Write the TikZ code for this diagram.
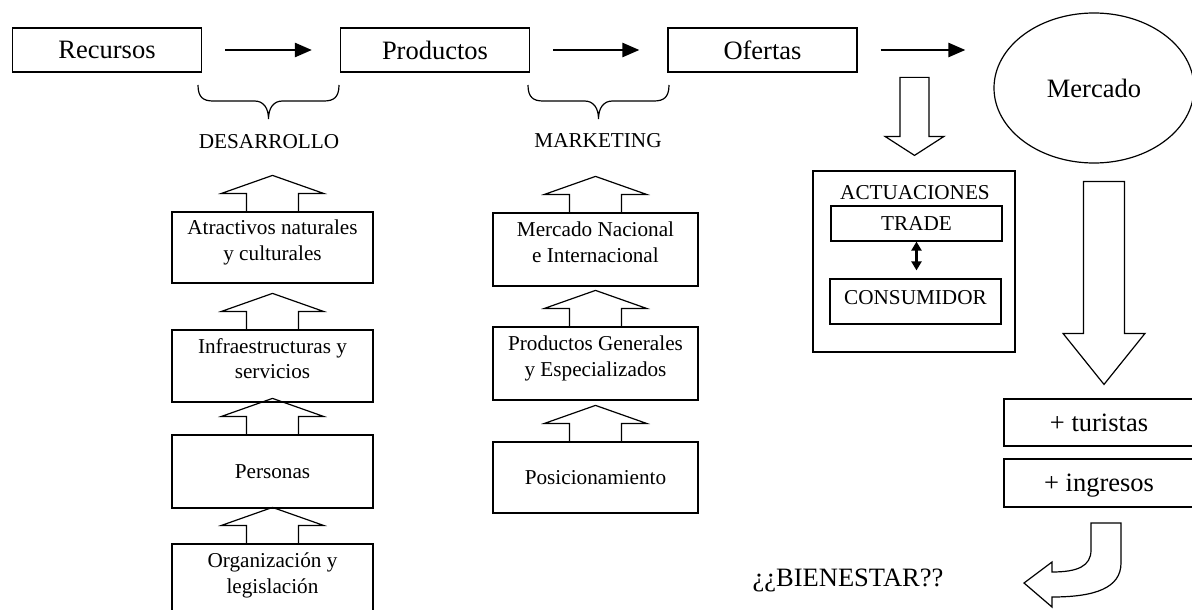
\documentclass[tikz,border=0pt]{standalone}
\usepackage{fontspec}
\setmainfont{Liberation Serif}
\usetikzlibrary{arrows.meta,calc,shapes.geometric}
\newcommand{\bigfont}{\fontsize{26.5pt}{30pt}\selectfont}
\newcommand{\smallfont}{\fontsize{21.2pt}{25.5pt}\selectfont}
\newcommand{\blockup}[1]{\draw [blockarrow] ($(#1.north)+(-26,0)$) -- ++(0,18) -- ++(-25,0) -- ++(51,18) -- ++(51,-18) -- ++(-25,0) -- ++(0,-18);}
\newcommand{\blockdown}[5]{\draw [blockarrow] (#1) -- ++(-#3,#4) -- ++(#3-#2,0) -- ++(0,#5) -- ++(2*#2,0) -- ++(0,-#5) -- ++(#3-#2,0) -- cycle;}
\newcommand{\wordbrace}[2]{\pgfmathsetmacro{\bm}{(#1+#2)/2}
  \draw [line width=1.2pt] (#1,-85) .. controls (#1,-97) and (#1+5,-101) .. (#1+15,-101) -- (\bm-14,-101) .. controls (\bm-5,-101) and (\bm,-108) .. (\bm,-119) .. controls (\bm,-108) and (\bm+5,-101) .. (\bm+14,-101) -- (#2-15,-101) .. controls (#2-5,-101) and (#2,-97) .. (#2,-85);}
\tikzset{
  box/.style={draw, line width=1.2pt, inner sep=0pt},
  topbox/.style={box, minimum width=189pt, minimum height=44pt, font=\bigfont, text depth=0pt},
  colbox/.style={box, font=\smallfont, align=center, text depth=15pt},
  onebox/.style={box, font=\smallfont, text depth=0pt},
  flowarrow/.style={line width=2.5pt, -{Triangle[length=17pt,width=14pt]}, shorten <=23pt, shorten >=28pt},
  dblarrow/.style={line width=2.5pt, {Triangle[length=9pt,width=10pt]}-{Triangle[length=9pt,width=10pt]}, shorten >=8pt},
  blockarrow/.style={line width=1.2pt, line join=miter}
}
\begin{document}
\begin{tikzpicture}[x=1pt,y=1pt]
\useasboundingbox (0,0) rectangle (1192,-610);
\clip (0,0) rectangle (1192,-610);
\node [topbox] (recursos) at (107,-50) {Recursos};
\node [topbox] (productos) at (435,-50) {Productos};
\node [topbox] (ofertas) at (762.5,-50) {Ofertas};
\node [box, ellipse, minimum width=200pt, minimum height=150pt, font=\bigfont] (mercado) at (1094,-88) {Mercado};
\draw [flowarrow] (recursos) -- (productos);
\draw [flowarrow] (productos) -- (ofertas);
\draw [flowarrow] (ofertas.east) -- (ofertas.east -| mercado.west);
\wordbrace{198}{339}
\wordbrace{528}{669}
\node [font=\smallfont] (desarrollo) at (269,-142) {DESARROLLO};
\node [font=\smallfont] (marketing) at (598,-141) {MARKETING};
\node [colbox, minimum width=201pt, minimum height=71pt] (atractivos) at (272.5,-247.5) {Atractivos naturales\\y culturales};
\node [colbox, minimum width=201pt, minimum height=72pt] (infra) at (272.5,-366) {Infraestructuras y\\servicios};
\node [onebox, minimum width=201pt, minimum height=73pt] (personas) at (272.5,-471.5) {Personas};
\node [colbox, minimum width=201pt, minimum height=73pt] (organizacion) at (272.5,-580.5) {Organización y\\legislación};
\node [colbox, minimum width=205pt, minimum height=73pt] (mercadoni) at (595.5,-249.5) {Mercado Nacional\\e Internacional};
\node [colbox, minimum width=205pt, minimum height=73pt] (generales) at (595.5,-363.5) {Productos Generales\\y Especializados};
\node [onebox, minimum width=205pt, minimum height=71pt] (posicion) at (595.5,-477.5) {Posicionamiento};
\foreach \boxname in {atractivos,infra,personas,organizacion,mercadoni,generales,posicion} {\blockup{\boxname}}
\node [box, minimum width=202pt, minimum height=181pt] (actuaciones) at (914,-261.5) {};
\node [font=\smallfont] (acttitle) at (915,-193) {ACTUACIONES};
\node [box, font=\smallfont, minimum width=171pt, minimum height=35pt, text depth=0pt] (trade) at (916.5,-223.5) {TRADE};
\node [box, font=\smallfont, minimum width=171pt, minimum height=45pt, text depth=9pt] (consumidor) at (915.5,-301.5) {CONSUMIDOR};
\draw [dblarrow] (trade.south) -- (trade.south |- consumidor.north);
\blockdown{$(actuaciones.north)+(0.5,15)$}{14.5}{29.5}{19}{59}
\node [box, font=\bigfont, minimum width=190pt, minimum height=47pt, text depth=0pt] (turistas) at (1099,-422.5) {+ turistas};
\node [box, font=\bigfont, minimum width=190pt, minimum height=48pt, text depth=0pt] (ingresos) at (1099,-483) {+ ingresos};
\blockdown{$(turistas.north)+(5,14)$}{20.5}{41}{51}{152}
\draw [blockarrow] (1091,-523) -- (1121,-523) -- (1121,-563) .. controls (1121,-588) and (1095,-597) .. (1052,-597) -- (1052,-607) -- (1024,-583) -- (1052,-562) -- (1052,-572) .. controls (1078,-572) and (1091,-566) .. (1091,-550) -- cycle;
\node [font=\bigfont] (bienestar) at (848,-580) {¿¿BIENESTAR??};
\end{tikzpicture}
\end{document}
